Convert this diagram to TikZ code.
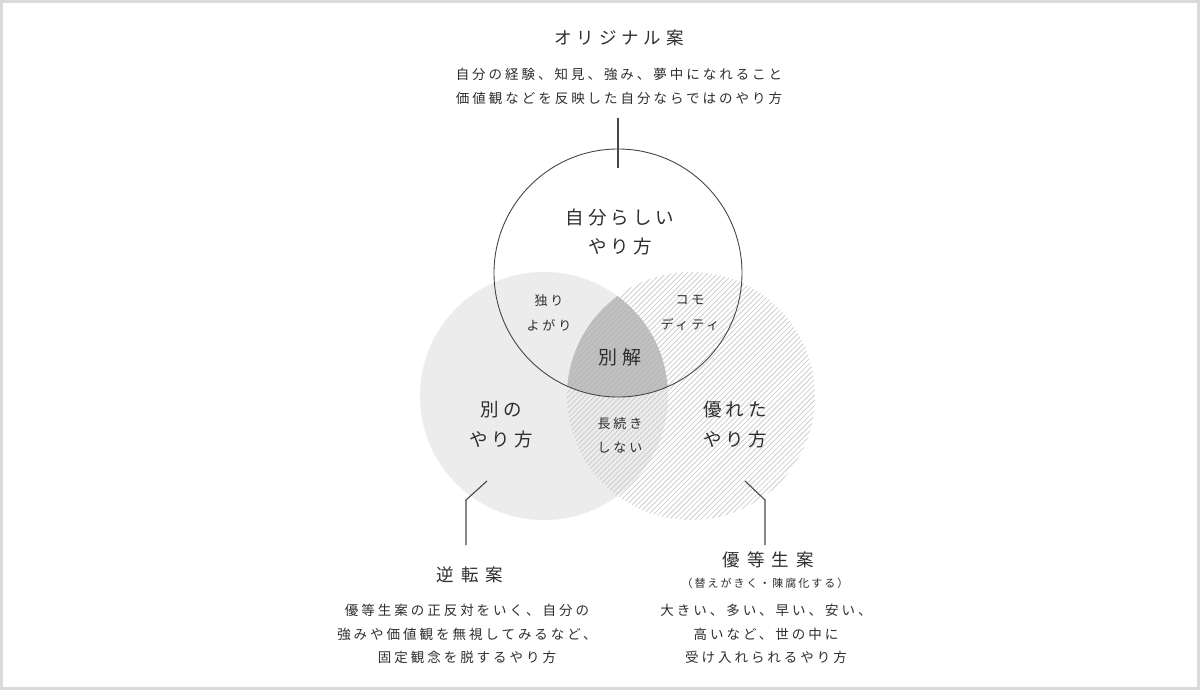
\documentclass[tikz,border=0pt]{standalone}
\usepackage{fontspec}
\usetikzlibrary{calc}
\newfontfamily\jp[LetterSpace=22]{Noto Sans CJK JP}
\definecolor{txt}{HTML}{2E2E2E}
\definecolor{lgray}{HTML}{EBECEB}
\definecolor{dgray}{HTML}{BBBBBB}
\definecolor{hatchc}{HTML}{C8C8C8}
\definecolor{framec}{HTML}{DADADA}
\definecolor{linec}{HTML}{4A4545}
\tikzset{
  lbl/.style={text=txt, align=center, inner sep=0pt},
  hatchline/.style={draw=hatchc, line width=0.65pt},
  conn/.style={draw=linec, line width=1.1pt},
  circ/.style={circle, minimum size=248pt, inner sep=0pt, outer sep=0pt},
}
\newcommand{\fsz}[2]{\fontsize{#1}{#2}\selectfont}
\begin{document}
\begin{tikzpicture}[x=1pt,y=-1pt]
\path[use as bounding box] (0,0) rectangle (1200,690);
\fill[white] (0,0) rectangle (1200,690);
\draw[framec, line width=3.4pt] (1.7,1.7) rectangle (1198.3,688.3);

% circles as nodes
\node[circ] (cT) at (618,273) {};
\node[circ] (cL) at (544,396) {};
\node[circ] (cR) at (691,396) {};

% left filled circle
\fill[lgray] (544,396) circle (124);
% triple intersection
\begin{scope}
  \clip (618,273) circle (124);
  \clip (544,396) circle (124);
  \fill[dgray] (691,396) circle (124);
\end{scope}
% hatch right circle
\begin{scope}
  \clip (691,396) circle (124);
  \foreach \a in {300,305.2,...,830}{
    \draw[hatchline] (\a,530) -- ++(270,-270);
  }
\end{scope}
% top circle outline
\draw[linec, line width=0.9pt] (618,273) circle (124);

% connectors
\coordinate (tA) at (618,118);
\coordinate (tB) at (618,168);
\draw[conn] (tA) -- (tB);
\coordinate (lA) at (487,481);
\coordinate (lB) at (466,500);
\coordinate (lC) at (466,545);
\draw[conn] (lA) -- (lB) -- (lC);
\coordinate (rA) at (745,481);
\coordinate (rB) at (765,500);
\coordinate (rC) at (765,545);
\draw[conn] (rA) -- (rB) -- (rC);

% top texts
\node[lbl, font=\jp\addfontfeatures{LetterSpace=28}\fsz{17.5}{20}] (tTitle) at (619,38) {オリジナル案};
\node[lbl, font=\jp\fsz{13.5}{24}] (tDesc) at (619,86) {自分の経験、知見、強み、夢中になれること\\価値観などを反映した自分ならではのやり方};

% circle labels
\node[lbl, font=\jp\fsz{18.5}{29}] (sJ) at (620,232) {自分らしい\\やり方};
\node[lbl, font=\jp\fsz{13}{25}] (sH) at (549,313) {独り\\よがり};
\node[lbl, font=\jp\fsz{13}{25}] (sC) at (690,313) {コモ\\ディティ};
\node[lbl, font=\jp\fsz{19}{25}] (sB) at (620,357) {別解};
\node[lbl, font=\jp\fsz{18.5}{30}] (sL) at (501,425) {別の\\やり方};
\node[lbl, font=\jp\fsz{13}{24}] (sN) at (620,435) {長続き\\しない};
\node[lbl, font=\jp\fsz{18.5}{30}] (sR) at (735,425) {優れた\\やり方};

% bottom texts
\node[lbl, font=\jp\addfontfeatures{LetterSpace=40}\fsz{17.5}{20}] (bL) at (470,575) {逆転案};
\node[lbl, font=\jp\fsz{13.5}{23.5}] (bLd) at (467,634) {優等生案の正反対をいく、自分の\\強みや価値観を無視してみるなど、\\固定観念を脱するやり方};
\node[lbl, font=\jp\addfontfeatures{LetterSpace=40}\fsz{17.5}{20}] (bR) at (768,560) {優等生案};
\node[lbl, font=\jp\addfontfeatures{LetterSpace=18}\fsz{11}{14}] (bRs) at (765,583) {（替えがきく・陳腐化する）};
\node[lbl, font=\jp\fsz{13.5}{23.5}] (bRd) at (766,634) {大きい、多い、早い、安い、\\高いなど、世の中に\\受け入れられるやり方};
\end{tikzpicture}
\end{document}
